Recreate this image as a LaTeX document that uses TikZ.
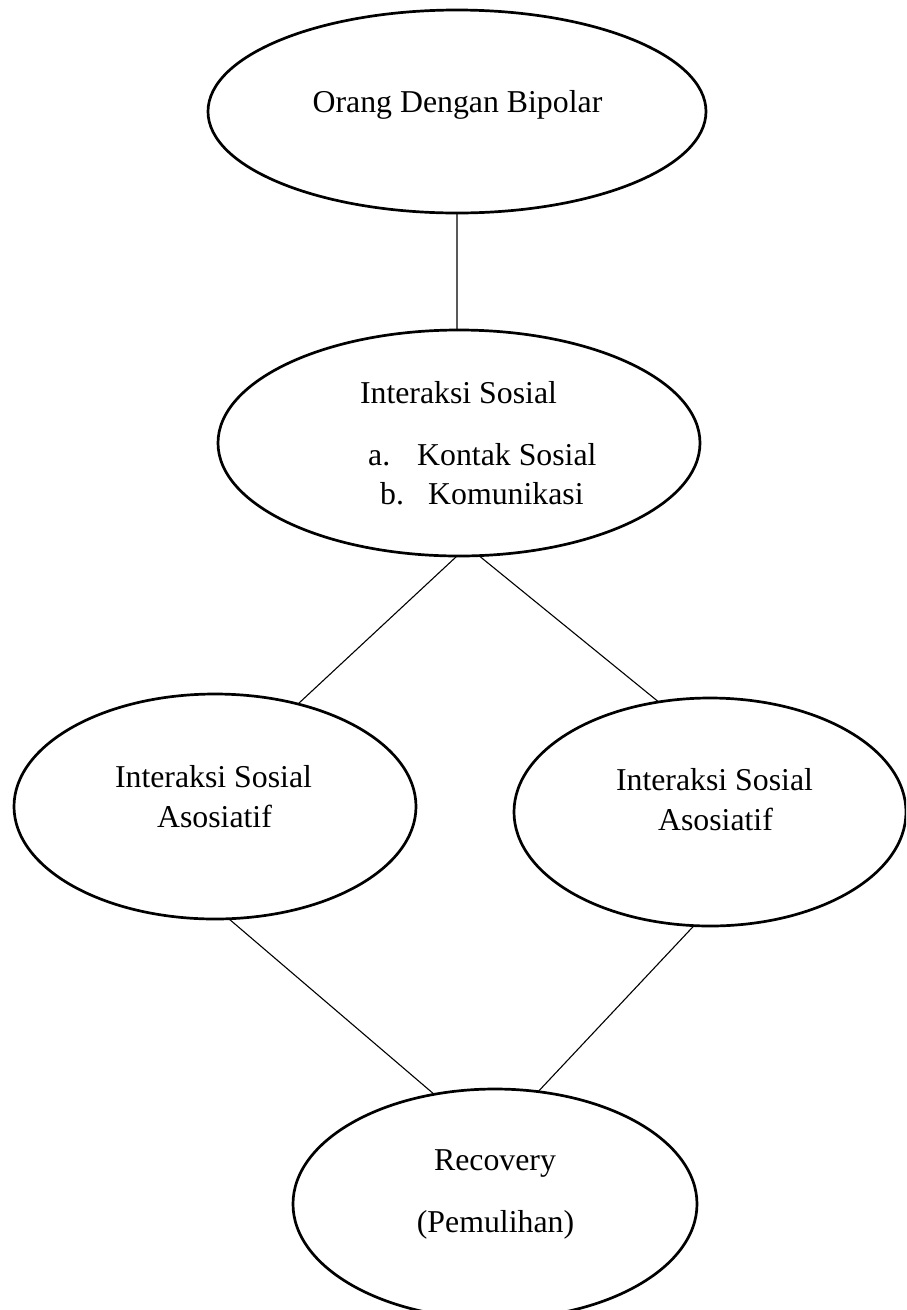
\documentclass[tikz,border=0pt]{standalone}
\usepackage{fontspec}
\setmainfont{Liberation Serif}
\usetikzlibrary{shapes.geometric}
\begin{document}
\begin{tikzpicture}[x=1pt,y=-1pt,
  oval/.style={ellipse, draw, line width=2.7pt, inner sep=0pt, outer sep=0pt},
  lbl/.style={inner sep=0pt, anchor=base, font=\fontsize{31.8}{38}\selectfont},
  lblw/.style={lbl, anchor=base west},
  link/.style={line width=1.1pt}]
\useasboundingbox (0,0) rectangle (906,1310);
\clip (0,0) rectangle (906,1310);
% ellipses
\node[oval, minimum width=498pt, minimum height=203pt] (e1) at (457,111.5) {};
\node[oval, minimum width=482pt, minimum height=226pt] (e2) at (459,443) {};
\node[oval, minimum width=402pt, minimum height=225pt] (e3) at (215,806.5) {};
\node[oval, minimum width=392pt, minimum height=228pt] (e4) at (710,812) {};
\node[oval, minimum width=404pt, minimum height=230pt] (e5) at (495,1204) {};
% texts
\node[lbl] (t1) at (457.5,112) {Orang Dengan Bipolar};
\node[lbl] (t2) at (458.5,403) {Interaksi Sosial};
\node[lblw] (t2a) at (368,465) {a.};
\node[lblw] (t2b) at (417,465) {Kontak Sosial};
\node[lblw] (t2c) at (380,504) {b.};
\node[lblw] (t2d) at (428,504) {Komunikasi};
\node[lbl] (t3a) at (213.5,787) {Interaksi Sosial};
\node[lbl] (t3b) at (214.5,827) {Asosiatif};
\node[lbl] (t4a) at (714.5,790) {Interaksi Sosial};
\node[lbl] (t4b) at (715.5,830) {Asosiatif};
\node[lbl] (t5a) at (495,1170) {Recovery};
\node[lbl] (t5b) at (495.5,1232) {(Pemulihan)};
% connectors
\draw[link] (e1.-90.5) -- (e2.91.5);
\draw[link] (e2.-91) -- (e3.51.9);
\draw[link] (e2.-80.9) -- (e4.115.7);
\draw[link] (e3.-83) -- (e5.119);
\draw[link] (e4.-98.3) -- (e5.69);
\end{tikzpicture}
\end{document}
